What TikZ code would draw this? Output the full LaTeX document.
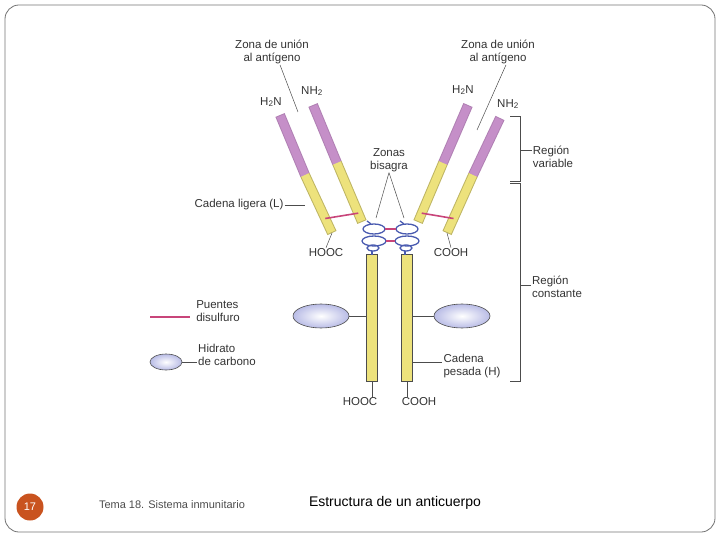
\documentclass[tikz,border=0pt]{standalone}
\usepackage{fontspec}
\setmainfont{Liberation Sans}
\usetikzlibrary{positioning,calc,shapes.geometric}
\definecolor{chainY}{HTML}{EDE27C}
\definecolor{chainV}{HTML}{C58FC8}
\definecolor{bondP}{HTML}{C8457A}
\definecolor{coilB}{HTML}{4A5BB0}
\definecolor{carbB}{HTML}{B9BCE6}
\definecolor{numO}{HTML}{C9531F}
\tikzset{
  lbl/.style={font=\fontsize{11.5}{12.5}\selectfont, align=left, inner sep=1pt, text=black!80},
  lblc/.style={lbl, align=center},
  lead/.style={draw=black!70, line width=0.5pt},
  bond/.style={draw=bondP, line width=1.6pt},
  coil/.style={draw=coilB, line width=1.3pt},
  carb/.style={ellipse, draw=black!70, line width=0.6pt, inner color=white, outer color=carbB, minimum width=56pt, minimum height=24pt},
}
\newcommand{\chain}[4]{% top, split, bottom, name
  \coordinate (#4-t) at #1; \coordinate (#4-s) at #2; \coordinate (#4-b) at #3;
  \draw[chainV!90!black, line width=10pt] (#4-t) -- (#4-s);
  \draw[chainY!80!black, line width=10pt] (#4-s) -- (#4-b);
  \draw[chainV, line width=8pt] ($(#4-t)!1pt!(#4-s)$) -- (#4-s);
  \draw[chainY, line width=8pt] (#4-s) -- ($(#4-b)!1pt!(#4-s)$);
}
\begin{document}
\begin{tikzpicture}[x=1pt,y=-1pt]
  \useasboundingbox (0,0) rectangle (720,540);
  \draw[black!55, line width=0.8pt, rounded corners=14pt] (5,5) rectangle (715,532);

  % footer
  \node[circle, fill=numO, minimum size=27pt, inner sep=0pt, text=white, font=\fontsize{11}{12}\selectfont] (num) at (30,507) {17};
  \node[font=\fontsize{11}{12}\selectfont, text=black!70] (tema) at (172,505) {Tema 18. Sistema inmunitario};
  \node[font=\fontsize{14}{16}\selectfont] (title) at (395,503) {Estructura de un anticuerpo};

  % light and heavy chains (arms)
  \chain{(280,115)}{(305,175)}{(332,233)}{lo}
  \chain{(313,105)}{(337,163)}{(362,222)}{li}
  \chain{(468,105)}{(443,163)}{(418,222)}{ri}
  \chain{(500,118)}{(473,175)}{(447,233)}{ro}

  % heavy chains (stem)
  \node[draw=black!70, fill=chainY, minimum width=11pt, minimum height=127pt, inner sep=0pt] (hl) at (372,318) {};
  \node[draw=black!70, fill=chainY, minimum width=11pt, minimum height=127pt, inner sep=0pt] (hr) at (407,318) {};

  % hinge coils
  \foreach \cx in {374,407}{
    \draw[coil] (\cx,229) ellipse (11 and 5);
    \draw[coil] (\cx,241) ellipse (12 and 5);
    \draw[coil] (\cx-1,248) ellipse (6 and 3);
    \draw[coil] (\cx-7,221) -- (\cx-3,224);
    \draw[coil] (\cx-2,251) -- (\cx-2,255);
  }
  \draw[bond] (385,229) -- (396,229);
  \draw[bond] (386,241) -- (395,241);
  \draw[bond] ($(lo-b)!0.25!(lo-s)$) -- ($(li-b)!0.15!(li-s)$);
  \draw[bond] ($(ro-b)!0.25!(ro-s)$) -- ($(ri-b)!0.15!(ri-s)$);

  % carbohydrates
  \node[carb] (cl) at (321,316) {};
  \node[carb] (cr) at (462,316) {};
  \draw[lead] (cl.east) -- (hl.west |- cl.east);
  \draw[lead] (cr.west) -- (hr.east |- cr.west);

  % top labels
  \node[lblc] (zl) at (272,52) {Zona de unión\\al antígeno};
  \node[lblc] (zr) at (498,52) {Zona de unión\\al antígeno};
  \coordinate (zl-p) at (298,112); \coordinate (zr-p) at (477,130);
  \draw[lead] (zl.south) ++(8,0) -- (zl-p);
  \draw[lead] (zr.south) ++(8,0) -- (zr-p);
  \node[lbl] (h2nl) at (271,102) {H\textsubscript{2}N};
  \node[lbl] (nh2l) at (312,91) {NH\textsubscript{2}};
  \node[lbl] (h2nr) at (463,90) {H\textsubscript{2}N};
  \node[lbl] (nh2r) at (508,104) {NH\textsubscript{2}};

  \node[lblc] (bis) at (389,160) {Zonas\\bisagra};
  \coordinate (bis-l) at (376,218); \coordinate (bis-r) at (404,218);
  \draw[lead] (bis.south) -- (bis-l);
  \draw[lead] (bis.south) -- (bis-r);

  \node[lbl] (lig) at (239,205) {Cadena ligera (L)};
  \draw[lead] (lig.east) -- (305,205);

  \node[lbl] (hooc1) at (326,253) {HOOC};
  \node[lbl] (cooh1) at (451,253) {COOH};
  \draw[lead] (lo-b) -- (hooc1.north);
  \draw[lead] (ro-b) -- (cooh1.north);
  \node[lbl] (hooc2) at (360,402) {HOOC};
  \node[lbl] (cooh2) at (419,402) {COOH};
  \draw[lead] (hl.south) -- (hl.south |- hooc2.north);
  \draw[lead] (hr.south) -- (hr.south |- cooh2.north);

  \node[lbl] (pes) at (472,366) {Cadena\\pesada (H)};
  \draw[lead] (hr.east |- 0,362) -- (pes.west |- 0,362);

  % regions
  \draw[lead] (510,116) -- (520,116) -- (520,181) -- (510,181);
  \draw[lead] (510,183) -- (520,183) -- (520,381) -- (510,381);
  \node[lbl] (rv) at (553,157) {Región\\variable};
  \node[lbl] (rc) at (557,287) {Región\\constante};
  \draw[lead] (520,150) -- (rv.west |- 0,150);
  \draw[lead] (520,285) -- (rc.west |- 0,285);

  % legend
  \node[lbl] (pd) at (218,311) {Puentes\\disulfuro};
  \draw[bond] (150,317) -- (190,317);
  \node[carb, minimum width=32pt, minimum height=16pt] (lc) at (166,362) {};
  \node[lbl] (hc) at (227,355) {Hidrato\\de carbono};
  \draw[lead] (lc.east) -- (hc.west |- lc.east);
\end{tikzpicture}
\end{document}
